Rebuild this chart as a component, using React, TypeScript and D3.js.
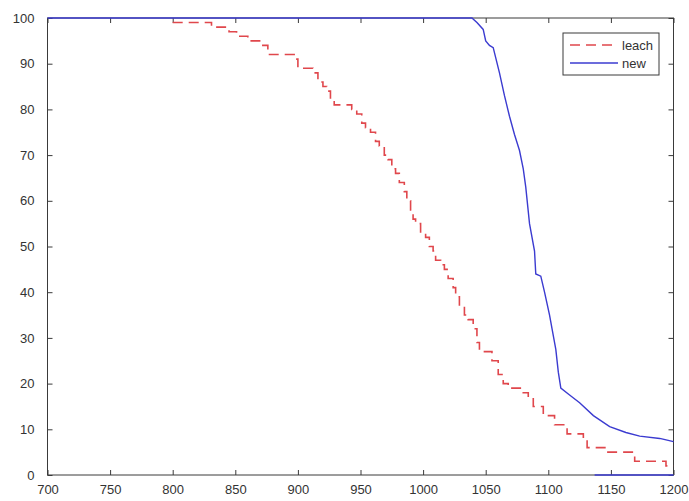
import React, { useEffect, useRef } from "react";
import * as d3 from "d3";

// tick values
const xTicks = [700, 750, 800, 850, 900, 950, 1000, 1050, 1100, 1150, 1200];
const yTicks = [0, 10, 20, 30, 40, 50, 60, 70, 80, 90, 100];

// "leach" - stair curve (red dashed)
const leachX = [800, 831, 845, 851, 860, 872, 876, 897, 900, 912, 916, 920, 923, 926, 929, 943, 947, 951, 954, 958, 962, 965, 969, 972, 975, 978, 981, 985, 987, 990, 992, 994, 998, 1002, 1005, 1008, 1010, 1014, 1017, 1020, 1024, 1026, 1029, 1033, 1036, 1040, 1043, 1045, 1055, 1060, 1064, 1068, 1080, 1084, 1088, 1096, 1105, 1115, 1128, 1131, 1146, 1169, 1194, 1200];
const leachY = [99, 98, 97, 96, 95, 94, 92, 91, 89, 88, 86, 85, 84, 82, 81, 80, 79, 77, 76, 75, 73, 72, 70, 69, 67, 66, 64, 62, 60, 58, 56, 55, 53, 52, 50, 49, 47, 46, 45, 43, 41, 39, 37, 35, 34, 32, 29, 27, 25, 22, 20, 19, 18, 17, 15, 13, 11, 9, 8, 6, 5, 3, 2, 2];

// "new" (blue solid)
const newX = [700, 1039, 1043, 1048, 1050, 1053, 1056, 1061, 1065, 1069, 1073, 1077, 1080, 1082, 1085, 1089, 1090, 1094, 1097, 1101, 1103, 1106, 1108, 1110, 1117, 1125, 1136, 1149, 1162, 1173, 1189, 1200];
const newY = [100, 100, 99, 97.5, 95, 94, 93.5, 88, 83, 78.5, 74.5, 71, 67, 63, 55, 49, 44, 43.5, 40, 35, 32, 27.5, 22.5, 19, 17.5, 15.8, 13, 10.6, 9.3, 8.5, 8, 7.3];
// blue piece lying on the bottom axis
const newFloorX = [1137, 1200];
const newFloorY = [0, 0];

const legendNames = ["leach", "new"];

const W = 689, H = 501;
const plotL = 47.5, plotR = 673.5, plotT = 18, plotB = 475;

export default function App() {
  const svgRef = useRef<SVGSVGElement>(null);

  useEffect(() => {
    const svg = d3.select(svgRef.current);
    svg.selectAll("*").remove();

    const x = d3.scaleLinear().domain([700, 1200]).range([plotL, plotR]);
    const y = d3.scaleLinear().domain([0, 100]).range([plotB, plotT]);

    const axisColor = "#3a3a3a";
    const font = "'Liberation Sans', Arial, sans-serif";

    // box
    svg.append("rect")
      .attr("x", plotL).attr("y", plotT)
      .attr("width", plotR - plotL).attr("height", plotB - plotT)
      .attr("fill", "#fff").attr("stroke", axisColor).attr("stroke-width", 1);

    const styleAxis = (g: any) => {
      g.select(".domain").remove();
      g.selectAll("line").attr("stroke", axisColor);
      g.selectAll("text")
        .attr("fill", "#333")
        .attr("font-family", font)
        .attr("font-size", 13);
    };

    // bottom / left with labels, ticks pointing in
    svg.append("g")
      .attr("transform", `translate(0,${plotB})`)
      .call(d3.axisBottom(x).tickValues(xTicks).tickSize(-5).tickPadding(10).tickFormat(d3.format("d")))
      .call(styleAxis);

    svg.append("g")
      .attr("transform", `translate(${plotL},0)`)
      .call(d3.axisLeft(y).tickValues(yTicks).tickSize(-5).tickPadding(13).tickFormat(d3.format("d")))
      .call(styleAxis);

    // top / right ticks only
    svg.append("g")
      .attr("transform", `translate(0,${plotT})`)
      .call(d3.axisTop(x).tickValues(xTicks).tickSize(-5).tickFormat(() => ""))
      .call(styleAxis);

    svg.append("g")
      .attr("transform", `translate(${plotR},0)`)
      .call(d3.axisRight(y).tickValues(yTicks).tickSize(-5).tickFormat(() => ""))
      .call(styleAxis);

    const red = "#e0474c";
    const blue = "#3b3bd0";

    const stair = d3.line<number>()
      .x((d, i) => x(leachX[i]))
      .y(d => y(d))
      .curve(d3.curveStepAfter);

    svg.append("path")
      .attr("d", stair(leachY))
      .attr("fill", "none")
      .attr("stroke", red)
      .attr("stroke-width", 1.6)
      .attr("stroke-dasharray", "10,6");

    const newLine = d3.line<number>()
      .x((d, i) => x(newX[i]))
      .y(d => y(d));

    svg.append("path")
      .attr("d", newLine(newY))
      .attr("fill", "none")
      .attr("stroke", blue)
      .attr("stroke-width", 1.4);

    const floorLine = d3.line<number>()
      .x((d, i) => x(newFloorX[i]))
      .y(d => y(d));

    svg.append("path")
      .attr("d", floorLine(newFloorY))
      .attr("fill", "none")
      .attr("stroke", blue)
      .attr("stroke-width", 1.4);

    // legend
    const lg = svg.append("g").attr("transform", "translate(563,33)");
    lg.append("rect")
      .attr("width", 96).attr("height", 42)
      .attr("fill", "#fff").attr("stroke", axisColor).attr("stroke-width", 1);

    const styles = [
      { color: red, dash: "10,6" },
      { color: blue, dash: null },
    ];
    legendNames.forEach((name, i) => {
      const yy = 12 + i * 18;
      lg.append("line")
        .attr("x1", 7).attr("x2", 55)
        .attr("y1", yy).attr("y2", yy)
        .attr("stroke", styles[i].color)
        .attr("stroke-width", 1.5)
        .attr("stroke-dasharray", styles[i].dash);
      lg.append("text")
        .attr("x", 59).attr("y", yy)
        .attr("dy", "0.35em")
        .attr("fill", "#333")
        .attr("font-family", font)
        .attr("font-size", 13)
        .text(name);
    });
  }, []);

  return (
    <svg
      ref={svgRef}
      width={W}
      height={H}
      style={{ position: "absolute", left: 0, top: 0, background: "#fff" }}
    />
  );
}
